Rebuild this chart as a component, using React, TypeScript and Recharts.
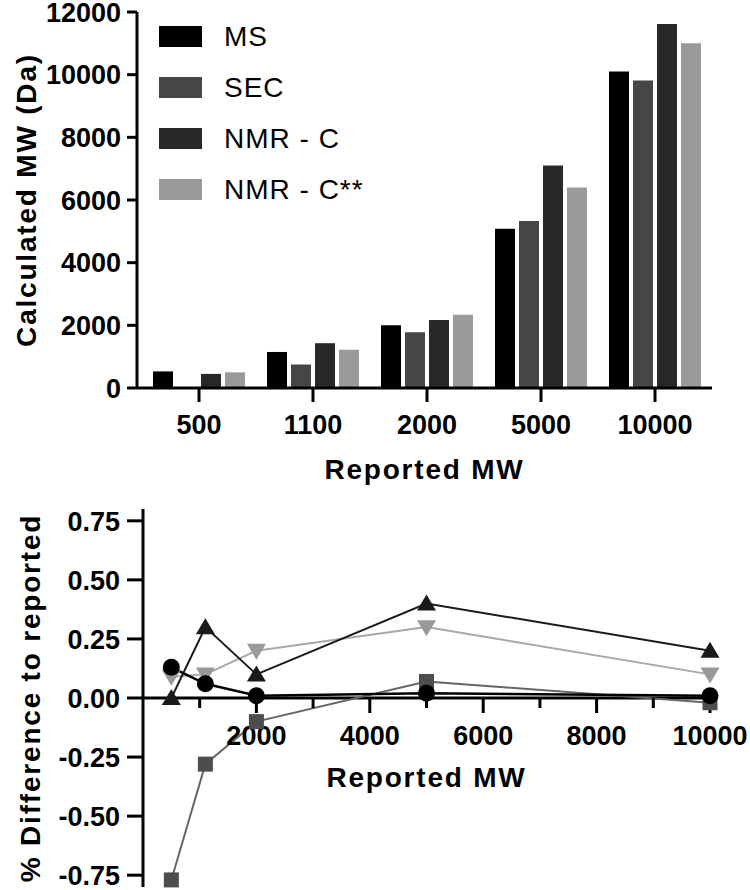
import React from 'react';
import {
  BarChart,
  Bar,
  LineChart,
  Line,
  XAxis,
  YAxis,
  Legend,
  Label,
  ReferenceLine,
  ReferenceDot,
} from 'recharts';

const FONT = '"Liberation Sans", Arial, Helvetica, sans-serif';

// categories / x values
const reportedMW = ['500', '1100', '2000', '5000', '10000'];
const reportedMWNum = [500, 1100, 2000, 5000, 10000];

// series
const seriesNames = ['MS', 'SEC', 'NMR - C', 'NMR - C**'];
const seriesKeys = ['ms', 'sec', 'nmrc', 'nmrcss'];
const barColors = ['#000000', '#464646', '#282828', '#9a9a9a'];

// top panel: calculated MW (Da)
const calcMS = [530, 1150, 2000, 5080, 10100];
const calcSEC = [30, 750, 1780, 5330, 9810];
const calcNMRC = [450, 1430, 2170, 7100, 11620];
const calcNMRCss = [500, 1220, 2340, 6400, 11000];

// bottom panel: % difference to reported
const diffMS = [0.13, 0.06, 0.01, 0.02, 0.01];
const diffSEC = [-0.77, -0.28, -0.1, 0.07, -0.02];
const diffNMRC = [0, 0.3, 0.1, 0.4, 0.2];
const diffNMRCss = [0.09, 0.1, 0.2, 0.3, 0.1];

// ticks
const calcTicks = [0, 2000, 4000, 6000, 8000, 10000, 12000];
const diffTicks = [-0.75, -0.5, -0.25, 0, 0.25, 0.5, 0.75];
const mwMajorTicks = [2000, 4000, 6000, 8000, 10000];
const mwMinorTicks = [1000, 3000, 5000, 7000, 9000];

const barData = reportedMW.map((mw, i) => ({
  mw,
  ms: calcMS[i],
  sec: calcSEC[i],
  nmrc: calcNMRC[i],
  nmrcss: calcNMRCss[i],
}));

const diffData = reportedMWNum.map((mw, i) => ({
  mw,
  ms: diffMS[i],
  sec: diffSEC[i],
  nmrc: diffNMRC[i],
  nmrcss: diffNMRCss[i],
}));

const tickStyle = { fontSize: 27, fontWeight: 700, fill: '#000', fontFamily: FONT };
const axisStroke = { stroke: '#000', strokeWidth: 3 };
const titleProps = {
  fontSize: 28,
  fontWeight: 700,
  fill: '#000',
  fontFamily: FONT,
  letterSpacing: 1.8,
};

// y tick labels, right-aligned against the tick mark
const yTick = (fmt: (v: number) => string) => (p: any) => (
  <text x={p.x} y={p.y} dy="0.36em" textAnchor="end" {...tickStyle}>
    {fmt(p.payload.value)}
  </text>
);

// x tick labels (category axis)
const xTick = (p: any) => (
  <text x={p.x} y={p.y} dy="0.72em" textAnchor="middle" {...tickStyle}>
    {p.payload.value}
  </text>
);

// rotated y-axis title, centred on the plot height
const yTitle = (text: string, cx: number) => (props: any) => {
  const vb = props.viewBox || {};
  const cy = vb.y + vb.height / 2;
  return (
    <text
      x={cx}
      y={cy}
      transform={`rotate(-90 ${cx} ${cy})`}
      textAnchor="middle"
      dominantBaseline="central"
      {...titleProps}
    >
      {text}
    </text>
  );
};

// x title under an axis
const xTitle = (text: string, dy: number) => (props: any) => {
  const vb = props.viewBox || {};
  return (
    <text x={vb.x + vb.width / 2} y={vb.y + dy} textAnchor="middle" {...titleProps}>
      {text}
    </text>
  );
};

const LegendBox = (props: any) => {
  const payload = [...(props.payload || [])].sort(
    (a: any, b: any) => seriesNames.indexOf(a.value) - seriesNames.indexOf(b.value)
  );
  return (
    <div style={{ fontFamily: FONT }}>
      {payload.map((e: any) => (
        <div key={e.value} style={{ display: 'flex', alignItems: 'center', height: 51 }}>
          <span style={{ display: 'inline-block', width: 43, height: 21, background: e.color }} />
          <span style={{ marginLeft: 22, fontSize: 28, letterSpacing: 1, color: '#000' }}>{e.value}</span>
        </div>
      ))}
    </div>
  );
};

// markers for the difference plot
const circleDot = (fill: string) => (p: any) => (
  <circle key={`c${p.index}`} cx={p.cx} cy={p.cy} r={8.5} fill={fill} />
);
const squareDot = (fill: string) => (p: any) => (
  <rect key={`s${p.index}`} x={p.cx - 7.5} y={p.cy - 7.5} width={15} height={15} fill={fill} />
);
const triUpDot = (fill: string) => (p: any) => (
  <path
    key={`t${p.index}`}
    d={`M${p.cx},${p.cy - 9} L${p.cx + 9.5},${p.cy + 7} L${p.cx - 9.5},${p.cy + 7} Z`}
    fill={fill}
  />
);
const triDownDot = (fill: string) => (p: any) => (
  <path
    key={`d${p.index}`}
    d={`M${p.cx},${p.cy + 9} L${p.cx + 9.5},${p.cy - 7} L${p.cx - 9.5},${p.cy - 7} Z`}
    fill={fill}
  />
);

// x ticks drawn on the zero line
const majorTick = (value: number) => (p: any) => (
  <g>
    <line x1={p.cx} x2={p.cx} y1={p.cy} y2={p.cy + 15} stroke="#000" strokeWidth={3} />
    <text x={p.cx} y={p.cy + 47} textAnchor="middle" {...tickStyle}>
      {value}
    </text>
  </g>
);
const minorTick = (p: any) => (
  <line x1={p.cx} x2={p.cx} y1={p.cy} y2={p.cy + 10} stroke="#000" strokeWidth={3} />
);

export default function App() {
  return (
    <div style={{ position: 'absolute', left: 0, top: 0, width: 750, height: 890, background: '#fff' }}>
      <div style={{ position: 'absolute', left: 0, top: 0 }}>
        <BarChart
          width={750}
          height={490}
          data={barData}
          margin={{ top: 12, right: 38, bottom: 2, left: 0 }}
          barCategoryGap={11}
          barGap={4}
        >
          <XAxis
            dataKey="mw"
            height={100}
            padding={{ left: 5, right: 0 }}
            tickSize={14}
            tickMargin={13}
            tick={xTick}
            axisLine={axisStroke}
            tickLine={axisStroke}
            interval={0}
          >
            <Label content={xTitle('Reported MW', 91)} />
          </XAxis>
          <YAxis
            width={137}
            domain={[0, 12000]}
            ticks={calcTicks}
            interval={0}
            tickSize={10}
            tickMargin={6}
            tick={yTick((v) => String(v))}
            axisLine={axisStroke}
            tickLine={axisStroke}
          >
            <Label content={yTitle('Calculated MW (Da)', 26)} />
          </YAxis>
          <Legend
            layout="vertical"
            align="center"
            verticalAlign="middle"
            wrapperStyle={{ left: 159, top: 11, width: 260 }}
            content={LegendBox}
          />
          {seriesKeys.map((k, i) => (
            <Bar key={k} dataKey={k} name={seriesNames[i]} fill={barColors[i]} isAnimationActive={false} />
          ))}
        </BarChart>
      </div>

      <div style={{ position: 'absolute', left: 0, top: 490 }}>
        <LineChart
          width={750}
          height={400}
          data={diffData}
          margin={{ top: 19, right: 40, bottom: 3, left: 0 }}
        >
          <XAxis type="number" dataKey="mw" domain={[0, 10000]} hide height={0} />
          <YAxis
            width={143}
            domain={[-0.8, 0.8]}
            ticks={diffTicks}
            interval={0}
            tickSize={16}
            tickMargin={7}
            tick={yTick((v) => v.toFixed(2))}
            axisLine={axisStroke}
            tickLine={axisStroke}
          >
            <Label content={yTitle('% Difference to reported', 30)} />
          </YAxis>
          <ReferenceLine y={0} stroke="#000" strokeWidth={3}>
            <Label content={xTitle('Reported MW', 89)} />
          </ReferenceLine>
          {mwMinorTicks.map((t) => (
            <ReferenceDot key={`mn${t}`} x={t} y={0} shape={minorTick} />
          ))}
          {mwMajorTicks.map((t) => (
            <ReferenceDot key={`mj${t}`} x={t} y={0} shape={majorTick(t)} />
          ))}
          <Line
            dataKey="sec"
            name="SEC"
            stroke="#666666"
            strokeWidth={2}
            dot={squareDot('#4d4d4d')}
            isAnimationActive={false}
          />
          <Line
            dataKey="nmrcss"
            name="NMR - C**"
            stroke="#a8a8a8"
            strokeWidth={2}
            dot={triDownDot('#999999')}
            isAnimationActive={false}
          />
          <Line
            dataKey="nmrc"
            name="NMR - C"
            stroke="#1a1a1a"
            strokeWidth={2}
            dot={triUpDot('#1a1a1a')}
            isAnimationActive={false}
          />
          <Line
            dataKey="ms"
            name="MS"
            stroke="#000000"
            strokeWidth={2.5}
            dot={circleDot('#000000')}
            isAnimationActive={false}
          />
        </LineChart>
      </div>
    </div>
  );
}
